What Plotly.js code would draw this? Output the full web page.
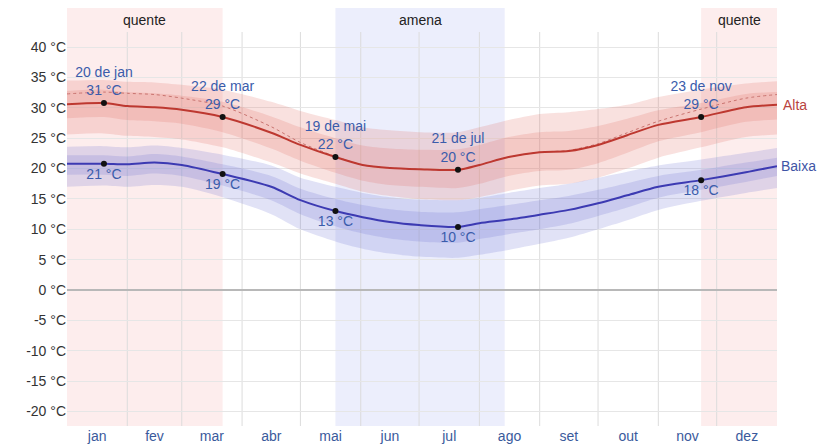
<!DOCTYPE html>
<html>
<head>
<meta charset="utf-8">
<script src="https://cdn.plot.ly/plotly-3.0.1.min.js"></script>
<style>html,body{margin:0;padding:0;background:#fff;}#chart{width:825px;height:445px;}</style>
</head>
<body>
<div id="chart"></div>
<script>
// Day-of-year samples
const days   = [0, 19, 31, 45, 59, 80, 105, 120, 138, 152, 166, 181, 201, 212, 227, 243, 258, 273, 288, 304, 326, 349, 365];
// Average daily high (°C)
const hiMean = [30.6, 30.8, 30.3, 30.1, 29.7, 28.5, 25.9, 23.9, 21.9, 20.6, 20.1, 19.9, 19.8, 20.6, 21.9, 22.7, 22.9, 23.9, 25.5, 27.2, 28.5, 30.1, 30.5];
const hiP90  = [34.5, 34.6, 34.3, 34.2, 33.8, 33.0, 31.0, 29.5, 28.0, 26.8, 26.3, 26.0, 26.0, 26.8, 28.0, 29.0, 29.3, 29.8, 30.5, 31.8, 33.0, 34.0, 34.4];
const hiP75  = [32.8, 33.0, 32.6, 32.4, 32.0, 31.0, 28.6, 26.8, 25.0, 23.8, 23.3, 23.1, 23.2, 23.9, 25.2, 26.0, 26.2, 27.0, 28.2, 29.6, 30.8, 32.3, 32.6];
const hiP25  = [28.3, 28.5, 28.0, 27.8, 27.4, 26.0, 23.3, 21.3, 19.3, 18.0, 17.3, 17.0, 16.8, 17.5, 18.8, 19.6, 19.8, 20.9, 22.6, 24.5, 26.0, 27.7, 28.1];
const hiP10  = [25.6, 25.8, 25.4, 25.2, 24.8, 23.5, 21.0, 19.2, 17.5, 16.2, 15.5, 15.0, 14.8, 15.3, 16.3, 17.2, 17.5, 18.5, 20.0, 21.8, 23.5, 25.2, 25.6];
// Perceived high (dotted)
const hiFeel = [32.3, 32.6, 32.4, 32.2, 31.6, 30.3, 26.9, 24.3, 22.0, 20.6, 20.1, 19.9, 19.8, 20.6, 21.9, 22.7, 23.0, 24.1, 25.9, 27.8, 29.8, 31.6, 32.2];
// Average daily low (°C)
const loMean = [20.8, 20.8, 20.7, 21.0, 20.6, 19.1, 17.0, 14.8, 13.0, 12.0, 11.2, 10.7, 10.4, 11.0, 11.6, 12.4, 13.2, 14.3, 15.6, 17.0, 18.1, 19.4, 20.4];
const loP90  = [23.6, 23.7, 23.5, 23.8, 23.4, 22.3, 20.5, 18.5, 17.0, 16.0, 15.3, 14.9, 14.8, 15.2, 16.0, 16.8, 17.5, 18.5, 19.5, 20.5, 21.5, 22.6, 23.4];
const loP75  = [22.2, 22.2, 22.0, 22.4, 22.0, 20.7, 18.8, 16.7, 15.0, 14.0, 13.3, 12.9, 12.8, 13.3, 14.0, 14.8, 15.5, 16.5, 17.6, 18.8, 19.8, 21.0, 21.8];
const loP25  = [19.0, 19.0, 18.8, 19.2, 18.8, 17.2, 14.8, 12.5, 10.5, 9.3, 8.5, 8.0, 7.8, 8.4, 9.2, 10.0, 10.9, 12.2, 13.6, 15.2, 16.5, 17.8, 18.8];
const loP10  = [17.0, 17.2, 17.0, 17.3, 17.0, 15.3, 12.5, 10.0, 8.0, 6.8, 6.0, 5.5, 5.3, 5.8, 6.6, 7.6, 8.6, 10.0, 11.5, 13.2, 14.7, 16.0, 16.8];

// Highlighted points
const markDays  = [19, 80, 138, 201, 326];
const markDates = ["20 de jan", "22 de mar", "19 de mai", "21 de jul", "23 de nov"];
const markHi    = [30.8, 28.5, 21.9, 19.8, 28.5];
const markHiLbl = [31, 29, 22, 20, 29];
const markLo    = [20.8, 19.1, 13.0, 10.4, 18.1];
const markLoLbl = [21, 19, 13, 10, 18];

// Months
const monthStarts = [0, 31, 59, 90, 120, 151, 181, 212, 243, 273, 304, 334, 365];
const monthNames  = ["jan","fev","mar","abr","mai","jun","jul","ago","set","out","nov","dez"];

// Seasons
const seasonNames = ["quente", "amena", "quente"];
const seasonStart = [0, 138, 326];
const seasonEnd   = [80, 225, 365];
const seasonFill  = ["#fdeded", "#eceefc", "#fdeded"];

const yTicks = [-20,-15,-10,-5,0,5,10,15,20,25,30,35,40];

const FONT = "Liberation Sans, Arial, sans-serif";
const hiBand = "rgba(225,105,95,0.2)";
const loBand = "rgba(105,108,210,0.2)";

function band(lo, hi, color){
  return [
    {x: days, y: lo, mode: "lines", line: {width: 0, shape: "spline", smoothing: 0.8}, hoverinfo: "skip", showlegend: false},
    {x: days, y: hi, mode: "lines", line: {width: 0, shape: "spline", smoothing: 0.8}, fill: "tonexty", fillcolor: color, hoverinfo: "skip", showlegend: false}
  ];
}

const traces = [].concat(
  band(hiP10, hiP90, hiBand),
  band(hiP25, hiP75, hiBand),
  band(loP10, loP90, loBand),
  band(loP25, loP75, loBand),
  [
    {x: days, y: hiFeel, mode: "lines", line: {color: "#c97470", width: 1, dash: "dot", shape: "spline", smoothing: 0.8}, showlegend: false},
    {x: days, y: hiMean, mode: "lines", line: {color: "#bd3830", width: 2, shape: "spline", smoothing: 0.8}, showlegend: false},
    {x: days, y: loMean, mode: "lines", line: {color: "#3c3ab2", width: 2, shape: "spline", smoothing: 0.8}, showlegend: false},
    {x: markDays, y: markHi, mode: "markers+text",
     text: markDates.map((d, i) => d + "<br>" + markHiLbl[i] + " °C"),
     textposition: "top center", textfont: {color: "#3a5cab", size: 14, family: FONT},
     marker: {color: "#111", size: 6}, showlegend: false},
    {x: markDays, y: markLo, mode: "markers+text",
     text: markLoLbl.map(v => v + " °C"),
     textposition: "bottom center", textfont: {color: "#3a5cab", size: 14, family: FONT},
     marker: {color: "#111", size: 6}, showlegend: false}
  ]
);

const shapes = [];
for (let i = 0; i < seasonNames.length; i++) {
  shapes.push({type: "rect", layer: "below", xref: "x", yref: "paper",
    x0: seasonStart[i], x1: seasonEnd[i], y0: 0, y1: 1.061,
    fillcolor: seasonFill[i], line: {width: 0}});
}
for (let i = 1; i < monthStarts.length - 1; i++) {
  shapes.push({type: "line", layer: "below", xref: "x", yref: "paper",
    x0: monthStarts[i], x1: monthStarts[i], y0: 0, y1: 1,
    line: {color: "#dcdcdc", width: 1}});
}

const annotations = [];
for (let i = 0; i < seasonNames.length; i++) {
  annotations.push({xref: "x", yref: "paper", x: (seasonStart[i] + seasonEnd[i]) / 2, y: 1.030,
    text: seasonNames[i], showarrow: false, xanchor: "center", yanchor: "middle",
    font: {family: FONT, size: 14, color: "#222"}});
}
annotations.push({xref: "x", yref: "y", x: 365, y: hiMean[hiMean.length - 1], text: "Alta",
  showarrow: false, xanchor: "left", xshift: 4, font: {family: FONT, size: 14, color: "#b9433e"}});
annotations.push({xref: "x", yref: "y", x: 365, y: loMean[loMean.length - 1], text: "Baixa",
  showarrow: false, xanchor: "left", xshift: 2, font: {family: FONT, size: 14, color: "#3f55a6"}});

const monthMids = monthNames.map((m, i) => (monthStarts[i] + monthStarts[i + 1]) / 2);

const layout = {
  width: 825, height: 445,
  margin: {l: 67, r: 48, t: 32, b: 19, pad: 0},
  paper_bgcolor: "#ffffff",
  plot_bgcolor: "rgba(0,0,0,0)",
  font: {family: FONT, size: 14, color: "#333"},
  showlegend: false,
  xaxis: {range: [0, 365], tickmode: "array", tickvals: monthMids, ticktext: monthNames,
    showgrid: false, zeroline: false, showline: false, ticks: "",
    tickfont: {family: FONT, size: 14, color: "#3a5a9c"}, fixedrange: true},
  yaxis: {range: [-22.4, 42.5], tickmode: "array", tickvals: yTicks,
    ticktext: yTicks.map(v => v + " °C"),
    showgrid: true, gridcolor: "#e6e6e6", gridwidth: 1,
    zeroline: true, zerolinecolor: "#b8b8b8", zerolinewidth: 1.5,
    showline: false, ticks: "", tickfont: {family: FONT, size: 14, color: "#333"}, fixedrange: true},
  shapes: shapes,
  annotations: annotations
};

Plotly.newPlot("chart", traces, layout, {displayModeBar: false, staticPlot: true});
</script>
</body>
</html>
